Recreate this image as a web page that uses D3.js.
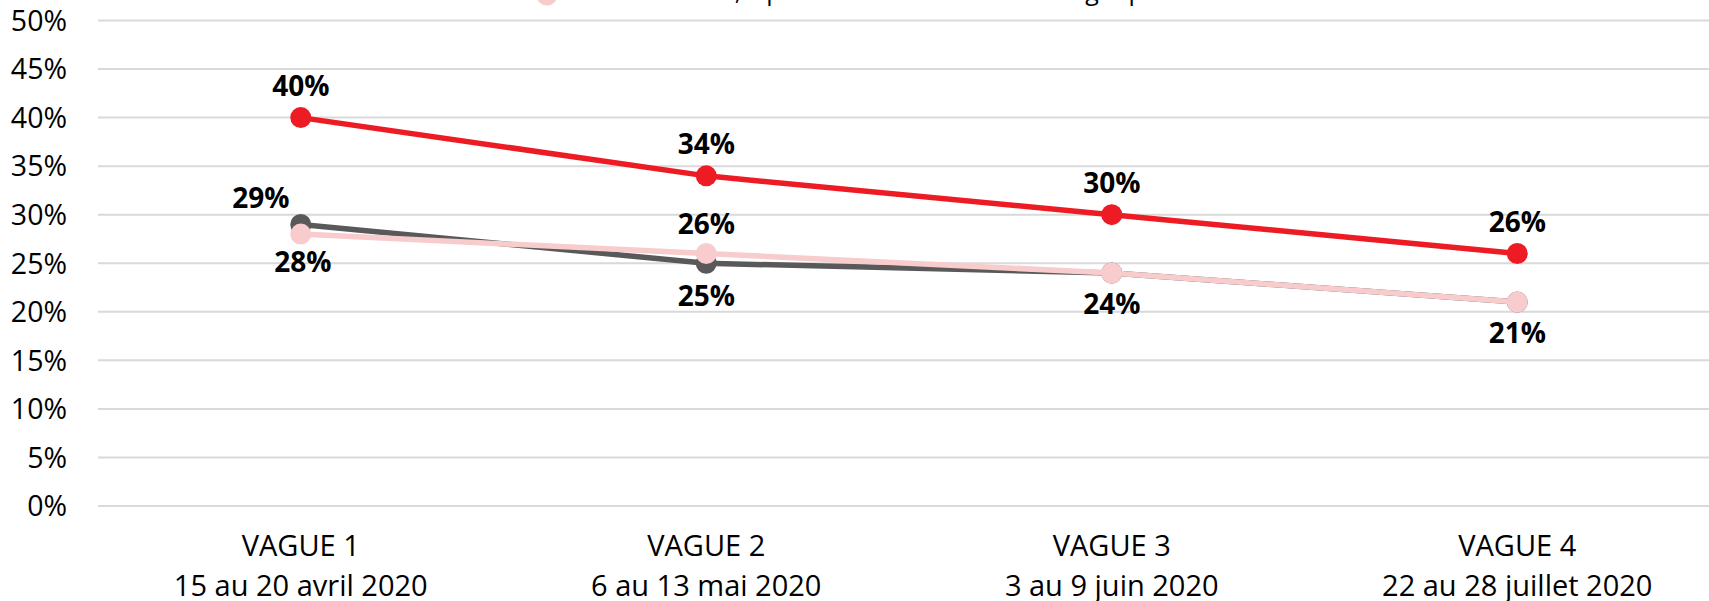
<!DOCTYPE html>
<html>
<head>
<meta charset="utf-8">
<script src="https://cdn.jsdelivr.net/npm/d3@7"></script>
<style>
  body { margin: 0; background: #fff; }
  svg text { font-family: "Open Sans", sans-serif; }
</style>
</head>
<body>
<div id="my_dataviz"></div>
<script>
// data
var waves = ["VAGUE 1", "VAGUE 2", "VAGUE 3", "VAGUE 4"]
var dates = ["15 au 20 avril 2020", "6 au 13 mai 2020", "3 au 9 juin 2020", "22 au 28 juillet 2020"]
var redValues = [40, 34, 30, 26]
var greyValues = [29, 25, 24, 21]
var pinkValues = [28, 26, 24, 21]
var yTicks = [0, 5, 10, 15, 20, 25, 30, 35, 40, 45, 50]
var legendLabel = "Moral en baisse, depuis le début de la crise sanitaire du groupe"

var width = 1709
    height = 601

var svg = d3.select("#my_dataviz")
  .append("svg")
    .attr("width", width)
    .attr("height", height)

var x = d3.scalePoint()
  .domain(waves)
  .range([98, 1720])
  .padding(0.5)

var y = d3.scaleLinear()
  .domain([0, 50])
  .range([506, 20.5])

// gridlines
svg.selectAll(".grid")
  .data(yTicks)
  .enter()
  .append("line")
    .attr("x1", 98)
    .attr("x2", width)
    .attr("y1", function(d) { return y(d) })
    .attr("y2", function(d) { return y(d) })
    .attr("stroke", "#d9d9d9")
    .attr("stroke-width", 2)

// y axis labels
svg.selectAll(".ytick")
  .data(yTicks)
  .enter()
  .append("text")
    .attr("x", 67)
    .attr("y", function(d) { return y(d) })
    .attr("dy", "0.36em")
    .attr("text-anchor", "end")
    .style("font-size", "28.5px")
    .style("fill", "#000")
    .text(function(d) { return d + "%" })

// x axis labels, two lines each
var xl = svg.selectAll(".xlab")
  .data(waves)
  .enter()
  .append("text")
    .attr("text-anchor", "middle")
    .style("font-size", "29px")
    .style("fill", "#000")
xl.append("tspan")
  .attr("x", function(d) { return x(d) })
  .attr("y", 556)
  .text(function(d) { return d })
xl.append("tspan")
  .attr("x", function(d) { return x(d) })
  .attr("y", 596)
  .text(function(d, i) { return dates[i] })

// series, drawn bottom to top; label offsets per point (dx, dy from the marker)
var series = [
  { name: "red", values: redValues, color: "#ed1c24",
    labels: [[0, -22], [0, -22], [0, -22], [0, -22]] },
  { name: "grey", values: greyValues, color: "#595959",
    labels: [[-40, -16], [0, 43], [0, 41], [0, 41]] },
  { name: "pink", values: pinkValues, color: "#f8cbcc",
    labels: [[2, 38], [0, -20], null, null] }
]

var line = d3.line()
  .x(function(d, i) { return x(waves[i]) })
  .y(function(d) { return y(d) })

series.forEach(function(s) {
  svg.append("path")
    .datum(s.values)
    .attr("d", line)
    .attr("fill", "none")
    .attr("stroke", s.color)
    .attr("stroke-width", 5.5)

  svg.selectAll(".dot-" + s.name)
    .data(s.values)
    .enter()
    .append("circle")
      .attr("cx", function(d, i) { return x(waves[i]) })
      .attr("cy", function(d) { return y(d) })
      .attr("r", 10.5)
      .attr("fill", s.color)
})

series.forEach(function(s) {
  svg.selectAll(".lab-" + s.name)
    .data(s.values.map(function(v, i) { return { v: v, i: i, off: s.labels[i] } })
      .filter(function(d) { return d.off }))
    .enter()
    .append("text")
      .attr("x", function(d) { return x(waves[d.i]) + d.off[0] })
      .attr("y", function(d) { return y(d.v) + d.off[1] })
      .attr("text-anchor", "middle")
      .style("font-size", "28px")
      .style("font-weight", "bold")
      .style("fill", "#000")
      .text(function(d) { return d.v + "%" })
})

// legend, mostly cut off at the top of the picture
svg.append("circle")
  .attr("cx", 547)
  .attr("cy", -5)
  .attr("r", 10.5)
  .attr("fill", "#f8cbcc")
svg.append("text")
  .attr("x", 592)
  .attr("y", 0)
  .attr("textLength", 563)
  .attr("lengthAdjust", "spacing")
  .style("font-size", "25px")
  .style("fill", "#000")
  .text(legendLabel)
</script>
</body>
</html>
